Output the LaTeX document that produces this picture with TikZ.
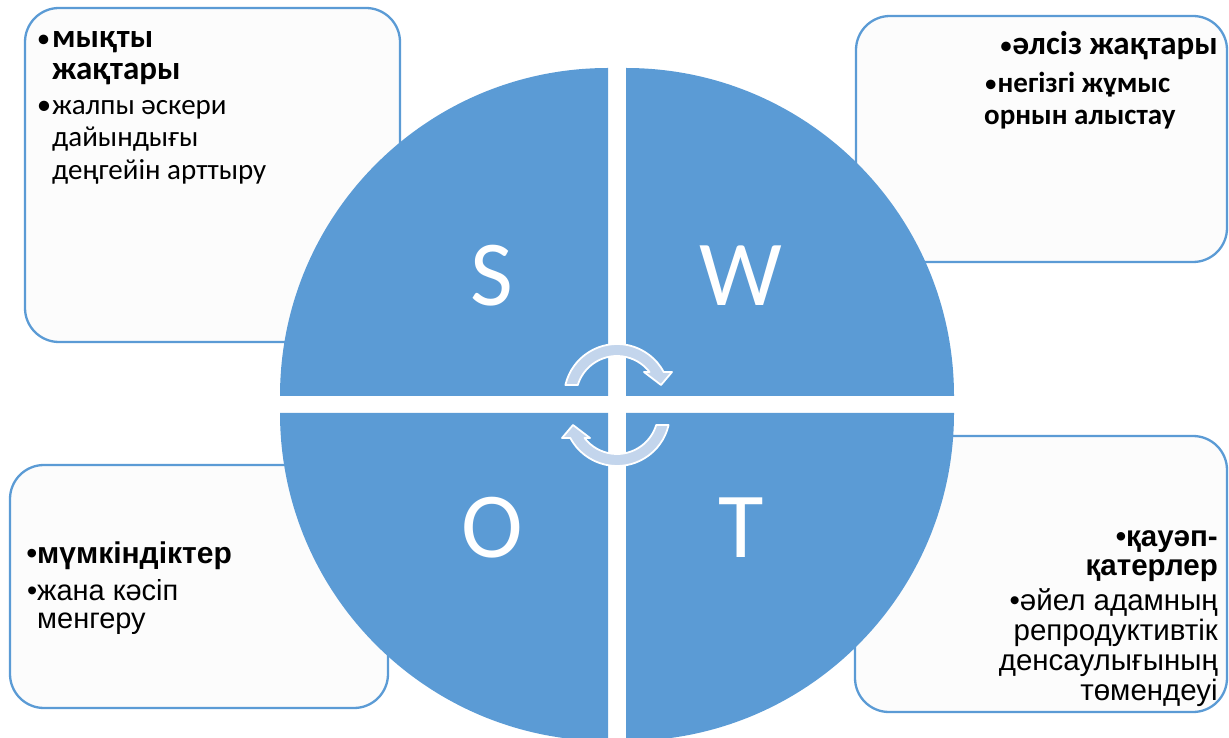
\documentclass[tikz,border=0pt]{standalone}
\usepackage{fontspec}
\setmainfont{Carlito}
\newfontfamily\arialf{Liberation Sans}
\newfontfamily\calf{Carlito}
\definecolor{swotblue}{HTML}{5B9BD5}
\definecolor{boxfill}{HTML}{FCFCFC}
\definecolor{arrowfill}{HTML}{C3D5EC}
\newcommand{\smbul}{{\mdseries\fontsize{27}{27}\selectfont•}}
\begin{document}
\begin{tikzpicture}[x=1pt,y=1pt,
  box/.style={draw=swotblue, line width=2.3pt, fill=boxfill, rounded corners=34pt},
  quad/.style={fill=swotblue},
  letter/.style={text=white, font=\calf\fontsize{93}{93}\selectfont, inner sep=0pt, anchor=base},
  cyc/.style={fill=arrowfill, draw=white, line width=1.8pt, line join=round},
  stxt/.style={font=\calf\fontsize{29}{32}\selectfont, inner sep=0pt, anchor=base west},
  stxtb/.style={stxt, font=\calf\bfseries\fontsize{33}{32}\selectfont},
  wtxt/.style={font=\calf\bfseries\fontsize{29}{32}\selectfont, inner sep=0pt},
  wtxth/.style={font=\calf\bfseries\fontsize{33}{32}\selectfont, inner sep=0pt},
  otxt/.style={font=\arialf\fontsize{29}{28}\selectfont, inner sep=0pt, anchor=base west},
  otxtb/.style={otxt, font=\arialf\bfseries\fontsize{30}{28}\selectfont},
  ttxt/.style={font=\arialf\fontsize{29.5}{30}\selectfont, inner sep=0pt, anchor=base east},
  ttxtb/.style={ttxt, font=\arialf\bfseries\fontsize{29.5}{30}\selectfont}]
\useasboundingbox (0,0) rectangle (1229,737);
% boxes
\draw[box] (25,395) rectangle (400,729);
\draw[box] (856,475) rectangle (1227,721);
\draw[box] (10,29) rectangle (388,272);
\draw[box] (855,25) rectangle (1227,301);
% quadrants
\fill[quad] (608,341) -- (280,341) arc[start angle=180,end angle=90,radius=328] -- cycle;
\fill[quad] (626,341) -- (626,669) arc[start angle=90,end angle=0,radius=328] -- cycle;
\fill[quad] (608,324) -- (608,-4) arc[start angle=270,end angle=180,radius=328] -- cycle;
\fill[quad] (626,324) -- (954,324) arc[start angle=0,end angle=-90,radius=328] -- cycle;
% letters
\node[letter] (S) at (492,431) {S};
\node[letter] (W) at (741,431) {W};
\node[letter] (O) at (492,179) {O};
\node[letter] (T) at (741,179) {T};
% cycle arrows
\coordinate (c1) at (617,340);
\coordinate (c2) at (617,324);
\path[cyc] ([shift={(166.9:53)}]c1) arc[start angle=166.9,end angle=28.1,radius=53]
  -- (672,365) -- (661,352) -- (644,365)
  -- ([shift={(37.6:41)}]c1) arc[start angle=37.6,end angle=163,radius=41] -- cycle;
\path[cyc] ([shift={(-13.1:53)}]c2) arc[start angle=-13.1,end angle=-151.9,radius=53]
  -- (562,299) -- (573,312) -- (590,299)
  -- ([shift={(-142.4:41)}]c2) arc[start angle=-142.4,end angle=-17,radius=41] -- cycle;
% S text
\node[stxtb] (s1) at (52,689) {\llap{\smbul\hspace{2pt}}мықты};
\node[stxtb] (s2) at (52,657) {жақтары};
\node[stxt] (s3) at (52,622) {\llap{•\hspace{1pt}}жалпы әскери};
\node[stxt] (s4) at (52,590) {дайындығы};
\node[stxt] (s5) at (52,557) {деңгейін арттыру};
% W text
\node[wtxth, anchor=base east] (w1) at (1218,682) {\smbul әлсіз жақтары};
\node[wtxt, anchor=base west] (w2) at (984,644) {\smbul негізгі жұмыс};
\node[wtxt, anchor=base west] (w3) at (984,612) {орнын алыстау};
% O text
\node[otxtb] (o1) at (37,174) {\llap{•}мүмкіндіктер};
\node[otxt] (o2) at (37,137) {\llap{•}жана кәсіп};
\node[otxt] (o3) at (37,109) {менгеру};
% T text
\node[ttxtb] (t1) at (1218,190) {•қауәп-};
\node[ttxtb] (t2) at (1218,162) {қатерлер};
\node[ttxt] (t3) at (1218,127) {•әйел адамның};
\node[ttxt] (t4) at (1218,97) {репродуктивтік};
\node[ttxt] (t5) at (1218,67) {денсаулығының};
\node[ttxt] (t6) at (1218,37) {төмендеуі};
\end{tikzpicture}
\end{document}
